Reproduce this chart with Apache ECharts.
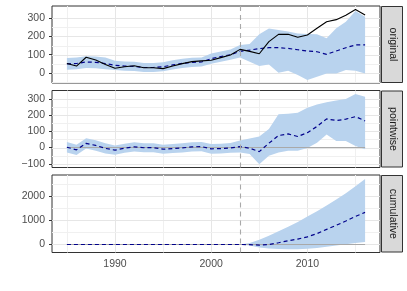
<!DOCTYPE html>
<html><head><meta charset="utf-8">
<script src="https://cdn.jsdelivr.net/npm/echarts@6/dist/echarts.min.js"></script>
<style>html,body{margin:0;padding:0;background:#fff}#c{width:407px;height:291px}</style>
</head><body><div id="c"></div>
<script>
const years = [1985,1986,1987,1988,1989,1990,1991,1992,1993,1994,1995,1996,1997,1998,1999,2000,2001,2002,2003,2004,2005,2006,2007,2008,2009,2010,2011,2012,2013,2014,2015,2016];
const interventionYear = 2003;
const panelNames = ['original', 'pointwise', 'cumulative'];

// original
const observed  = [52,38,86,71,47,26,34,40,29,29,24,38,51,62,66,70,84,98,129,118,105,171,211,211,195,207,244,280,291,315,346,316];
const predicted = [50,52,60,58,52,42,38,36,30,30,34,44,53,58,60,78,90,100,118,125,133,138,138,134,127,120,116,102,120,138,153,153];
const predUpper = [82,84,92,90,84,67,63,61,55,55,59,69,78,83,85,106,118,128,153,158,211,243,235,226,216,213,211,189,244,280,338,307];
const predLower = [18,20,28,26,20,17,13,11,5,5,9,19,28,33,35,50,62,72,85,62,38,47,2,13,-11,-38,-20,-2,-2,16,13,-2];

// pointwise
const pointwise = [2,-14,26,13,-5,-16,-4,4,-1,-1,-10,-6,-2,4,6,-8,-6,-2,6,-4,-25,27,74,84,68,92,130,177,167,175,191,164];
const pwUpper   = [34,18,58,45,27,12,24,32,27,27,18,22,26,32,34,22,24,28,44,56,68,115,206,208,214,246,266,280,291,300,331,314];
const pwLower   = [-30,-46,-6,-19,-37,-44,-32,-24,-29,-29,-38,-34,-30,-24,-22,-38,-36,-32,-30,-40,-103,-50,-30,-20,-20,-3,30,80,40,40,10,-10];

// cumulative
const cumulative = [0,0,0,0,0,0,0,0,0,0,0,0,0,0,0,0,0,0,0,-4,-29,-2,72,156,224,316,446,623,790,965,1156,1320];
const cumUpper   = [0,0,0,0,0,0,0,0,0,0,0,0,0,0,0,0,0,0,0,60,190,360,540,730,930,1150,1370,1600,1850,2110,2400,2700];
const cumLower   = [0,0,0,0,0,0,0,0,0,0,0,0,0,0,0,0,0,0,0,-45,-120,-165,-185,-195,-195,-180,-140,-90,-40,10,60,100];

// axis ticks
const xTicks = [1990, 2000, 2010];
const xMinor = [1985, 1995, 2005, 2015];
const yTicksOriginal = [0, 100, 200, 300];
const yMinorOriginal = [-50, 50, 150, 250];
const yTicksPointwise = [-100, 0, 100, 200, 300];
const yMinorPointwise = [-50, 50, 150, 250];
const yTicksCumulative = [0, 1000, 2000];
const yMinorCumulative = [500, 1500, 2500];

const FONT = '"Liberation Sans", Arial, sans-serif';
const BAND = '#b9d3ee';
const panels = [
  {top: 6, height: 77, yMin: -54.5, yMax: 365.5, yTicks: yTicksOriginal, yMinor: yMinorOriginal,
   mean: predicted, lower: predLower, upper: predUpper, obs: observed, zero: false},
  {top: 90.5, height: 77, yMin: -123, yMax: 352, yTicks: yTicksPointwise, yMinor: yMinorPointwise,
   mean: pointwise, lower: pwLower, upper: pwUpper, obs: null, zero: true},
  {top: 175, height: 77.5, yMin: -330, yMax: 2860, yTicks: yTicksCumulative, yMinor: yMinorCumulative,
   mean: cumulative, lower: cumLower, upper: cumUpper, obs: null, zero: true}
];
const LEFT = 52, WIDTH = 328;

function gridRender(params, api) {
  const v = api.value(0), kind = api.value(1), major = api.value(2);
  const cs = params.coordSys;
  let shape;
  if (kind === 0) {
    const x = Math.round(api.coord([v, 0])[0]) + 0.5;
    shape = {x1: x, y1: cs.y, x2: x, y2: cs.y + cs.height};
  } else {
    const y = Math.round(api.coord([2000, v])[1]) + 0.5;
    shape = {x1: cs.x, y1: y, x2: cs.x + cs.width, y2: y};
  }
  return {type: 'line', shape: shape, silent: true,
    style: {stroke: major ? '#e6e6e6' : '#f0f0f0', lineWidth: 1}};
}

function bandRenderer(lower, upper) {
  return function (params, api) {
    if (params.dataIndex !== 0) return null;
    const pts = [];
    for (let k = 0; k < years.length; k++) pts.push(api.coord([years[k], upper[k]]));
    for (let k = years.length - 1; k >= 0; k--) pts.push(api.coord([years[k], lower[k]]));
    return {type: 'polygon', shape: {points: pts}, silent: true, style: {fill: BAND, stroke: null}};
  };
}

const grid = [], xAxis = [], yAxis = [], series = [], graphic = [];
panels.forEach((p, i) => {
  grid.push({left: LEFT, width: WIDTH, top: p.top, height: p.height, show: true,
    backgroundColor: '#fff', borderColor: '#333333', borderWidth: 1, containLabel: false});
  const last = i === panels.length - 1;
  xAxis.push({type: 'value', gridIndex: i, min: 1983.45, max: 2017.55,
    axisLine: {show: false}, splitLine: {show: false},
    axisTick: {show: last, customValues: xTicks, length: 3, lineStyle: {color: '#333333', width: 1}},
    axisLabel: {show: last, customValues: xTicks, color: '#4d4d4d', fontSize: 10.5, fontFamily: FONT, margin: 6,
      formatter: v => String(v)}});
  yAxis.push({type: 'value', gridIndex: i, min: p.yMin, max: p.yMax,
    axisLine: {show: false}, splitLine: {show: false},
    axisTick: {show: true, customValues: p.yTicks, length: 3, lineStyle: {color: '#333333', width: 1}},
    axisLabel: {show: true, customValues: p.yTicks, color: '#4d4d4d', fontSize: 10.5, fontFamily: FONT, margin: 7,
      formatter: v => String(v).replace('-', '\u2212')}});

  const gdata = [];
  xTicks.forEach(v => gdata.push([v, 0, 1]));
  xMinor.forEach(v => gdata.push([v, 0, 0]));
  p.yTicks.forEach(v => gdata.push([v, 1, 1]));
  p.yMinor.forEach(v => gdata.push([v, 1, 0]));
  series.push({type: 'custom', xAxisIndex: i, yAxisIndex: i, data: gdata, renderItem: gridRender,
    z: 1, silent: true, clip: false, animation: false});

  series.push({type: 'custom', xAxisIndex: i, yAxisIndex: i,
    data: years.map((y, k) => [y, p.lower[k], p.upper[k]]),
    encode: {x: 0, y: [1, 2]}, renderItem: bandRenderer(p.lower, p.upper),
    z: 2, silent: true, clip: true, animation: false});

  if (p.zero) {
    series.push({type: 'line', xAxisIndex: i, yAxisIndex: i, data: years.map(y => [y, 0]), symbol: 'none',
      lineStyle: {color: '#a9a9a9', width: 1.1}, z: 3, silent: true});
  }
  series.push({type: 'line', xAxisIndex: i, yAxisIndex: i, data: years.map((y, k) => [y, p.mean[k]]), symbol: 'none',
    lineStyle: {color: '#00008b', width: 1.2, type: [4, 3]}, z: 4, silent: true,
    markLine: {silent: true, symbol: 'none', label: {show: false}, animation: false,
      lineStyle: {color: '#a9a9a9', width: 1.1, type: [5, 4]}, data: [{xAxis: interventionYear}]}});
  if (p.obs) {
    series.push({type: 'line', xAxisIndex: i, yAxisIndex: i, data: years.map((y, k) => [y, p.obs[k]]), symbol: 'none',
      lineStyle: {color: '#000000', width: 1.1}, z: 5, silent: true});
  }

  const sx = LEFT + WIDTH + 1;
  graphic.push({type: 'rect', shape: {x: sx + 0.5, y: p.top + 0.5, width: 21, height: p.height - 1},
    style: {fill: '#d9d9d9', stroke: '#333333', lineWidth: 1}, silent: true});
  graphic.push({type: 'text', x: sx + 11.5, y: p.top + p.height / 2, rotation: -Math.PI / 2,
    style: {text: panelNames[i], fill: '#1a1a1a', font: '10.5px ' + FONT, textAlign: 'center', textVerticalAlign: 'middle'},
    silent: true});
});

const chart = echarts.init(document.getElementById('c'), null, {renderer: 'canvas'});
chart.setOption({animation: false, grid, xAxis, yAxis, series, graphic});
</script></body></html>
